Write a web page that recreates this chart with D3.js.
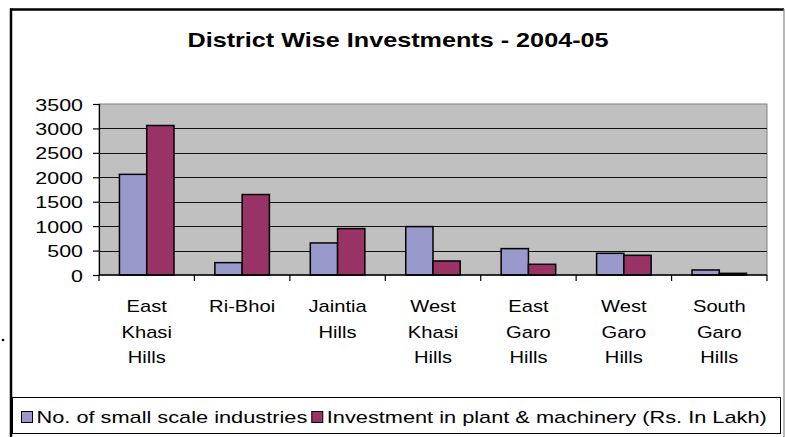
<!DOCTYPE html>
<html>
<head>
<meta charset="utf-8">
<script src="https://cdn.jsdelivr.net/npm/d3@7"></script>
<style>
  html, body { margin: 0; padding: 0; background: #fff; }
  svg { display: block; font-family: "Liberation Sans", Arial, sans-serif; }
</style>
</head>
<body>
<svg id="chart" width="785" height="437"></svg>
<script>
// District-wise small scale industries, Meghalaya, 2004-05
const districts = ["East Khasi Hills", "Ri-Bhoi", "Jaintia Hills", "West Khasi Hills",
                   "East Garo Hills", "West Garo Hills", "South Garo Hills"];
const seriesNames = ["No. of small scale industries",
                     "Investment in plant & machinery (Rs. In Lakh)"];
const units       = [2060, 253, 656, 991, 540, 444, 103];
const investment  = [3060, 1647, 950, 287, 219, 403, 34];
const yTicks      = [0, 500, 1000, 1500, 2000, 2500, 3000, 3500];
const colors      = ["#9999cc", "#993366"];
const title       = "District Wise Investments - 2004-05";

const values = [units, investment];
const W = 785, H = 437;
const plot = { left: 99, right: 767, top: 104, bottom: 275 };
const SX = 1.26;      // horizontal text stretch
const SX_LEG = 1.28;  // legend text stretch

const svg = d3.select("#chart");

// Place a text element with a horizontal stretch around its anchor point
function stretched(sel, x, y, sx) {
  return sel.attr("transform", `translate(${x},${y}) scale(${sx},1)`);
}

// Outer frame
const frame = svg.append("g");
frame.append("line").attr("x1", 11).attr("x2", 11).attr("y1", 8.5).attr("y2", H + 2)
  .attr("stroke", "#000").attr("stroke-width", 2.5);
frame.append("line").attr("x1", 10).attr("x2", 784).attr("y1", 9.5).attr("y2", 9.5)
  .attr("stroke", "#000").attr("stroke-width", 2.5);
frame.append("line").attr("x1", 784).attr("x2", 784).attr("y1", 9).attr("y2", H + 2)
  .attr("stroke", "#888").attr("stroke-width", 1.2);

// stray mark left of the frame
svg.append("circle").attr("cx", 3).attr("cy", 340).attr("r", 1.3).attr("fill", "#000");

// Title
stretched(svg.append("text"), 398, 47, SX)
  .attr("text-anchor", "middle").attr("font-size", 20).attr("font-weight", "bold")
  .attr("fill", "#000").text(title);

// Scales
const x = d3.scaleBand().domain(districts).range([plot.left, plot.right]).padding(0);
const xs = d3.scaleBand().domain([0, 1]).range([0, x.bandwidth()])
  .paddingInner(0).paddingOuter(0.75);
const y = d3.scaleLinear().domain([0, 3500]).range([plot.bottom, plot.top]);

// Plot background
svg.append("rect").attr("x", plot.left).attr("y", plot.top)
  .attr("width", plot.right - plot.left).attr("height", plot.bottom - plot.top)
  .attr("fill", "#c0c0c0").attr("stroke", "#808080").attr("stroke-width", 1);

// Gridlines
svg.append("g").selectAll("line").data(yTicks.filter(t => t > 0 && t < 3500)).join("line")
  .attr("x1", plot.left).attr("x2", plot.right)
  .attr("y1", d => Math.round(y(d)) + 0.5).attr("y2", d => Math.round(y(d)) + 0.5)
  .attr("stroke", "#111").attr("stroke-width", 1.2);

// Bars
const groups = svg.append("g").selectAll("g").data(districts).join("g")
  .attr("transform", d => `translate(${x(d)},0)`);
groups.selectAll("rect").data((d, i) => values.map((v, s) => ({ s, v: v[i] }))).join("rect")
  .attr("x", d => xs(d.s))
  .attr("width", xs.bandwidth())
  .attr("y", d => y(d.v))
  .attr("height", d => y(0) - y(d.v))
  .attr("fill", d => colors[d.s])
  .attr("stroke", "#000").attr("stroke-width", 1.5);

// Y axis
const yAxis = svg.append("g").attr("transform", `translate(${plot.left},0)`)
  .call(d3.axisLeft(y).tickValues(yTicks).tickSize(6).tickPadding(0).tickFormat(d3.format("d")));
yAxis.select(".domain").attr("stroke", "#000").attr("stroke-width", 1.2);
yAxis.selectAll(".tick line").attr("stroke", "#000").attr("stroke-width", 1.2);
yAxis.selectAll(".tick text").each(function () {
  const t = d3.select(this);
  t.attr("x", null).attr("dy", null)
   .attr("transform", `translate(-16,6) scale(${SX},1)`)
   .attr("font-size", 17).attr("font-family", "Liberation Sans, Arial, sans-serif")
   .attr("fill", "#000").attr("text-anchor", "end");
});

// X axis: baseline and category separator ticks
const xAxis = svg.append("g");
xAxis.append("line").attr("x1", plot.left).attr("x2", plot.right)
  .attr("y1", y(0)).attr("y2", y(0)).attr("stroke", "#000").attr("stroke-width", 1.5);
const seps = districts.map(d => x(d)).concat([x.range()[1]]);
xAxis.selectAll("line.sep").data(seps).join("line").attr("class", "sep")
  .attr("x1", d => d).attr("x2", d => d)
  .attr("y1", y(0)).attr("y2", y(0) + 6)
  .attr("stroke", "#000").attr("stroke-width", 1.2);

// Category labels, one word per line
const catLabels = svg.append("g").selectAll("g").data(districts).join("g");
catLabels.each(function (d) {
  const words = d.split(" ");
  const g = d3.select(this);
  words.forEach((w, k) => {
    stretched(g.append("text"), x(d) + x.bandwidth() / 2, 312 + k * 25.5, SX)
      .attr("text-anchor", "middle").attr("font-size", 16).attr("fill", "#000").text(w);
  });
});

// Legend
const legend = svg.append("g");
legend.append("rect").attr("x", 12.5).attr("y", 397.5).attr("width", 768).attr("height", 36)
  .attr("fill", "#fff").attr("stroke", "#000").attr("stroke-width", 1);
let lx = 21;
seriesNames.forEach((name, i) => {
  legend.append("rect").attr("x", lx + 0.5).attr("y", 411.5).attr("width", 11).attr("height", 11)
    .attr("fill", colors[i]).attr("stroke", "#000").attr("stroke-width", 1);
  const t = stretched(legend.append("text"), lx + 15.5, 423, SX_LEG)
    .attr("font-size", 17).attr("fill", "#000").text(name);
  lx += 15.5 + t.node().getComputedTextLength() * SX_LEG + 4;
});
</script>
</body>
</html>
